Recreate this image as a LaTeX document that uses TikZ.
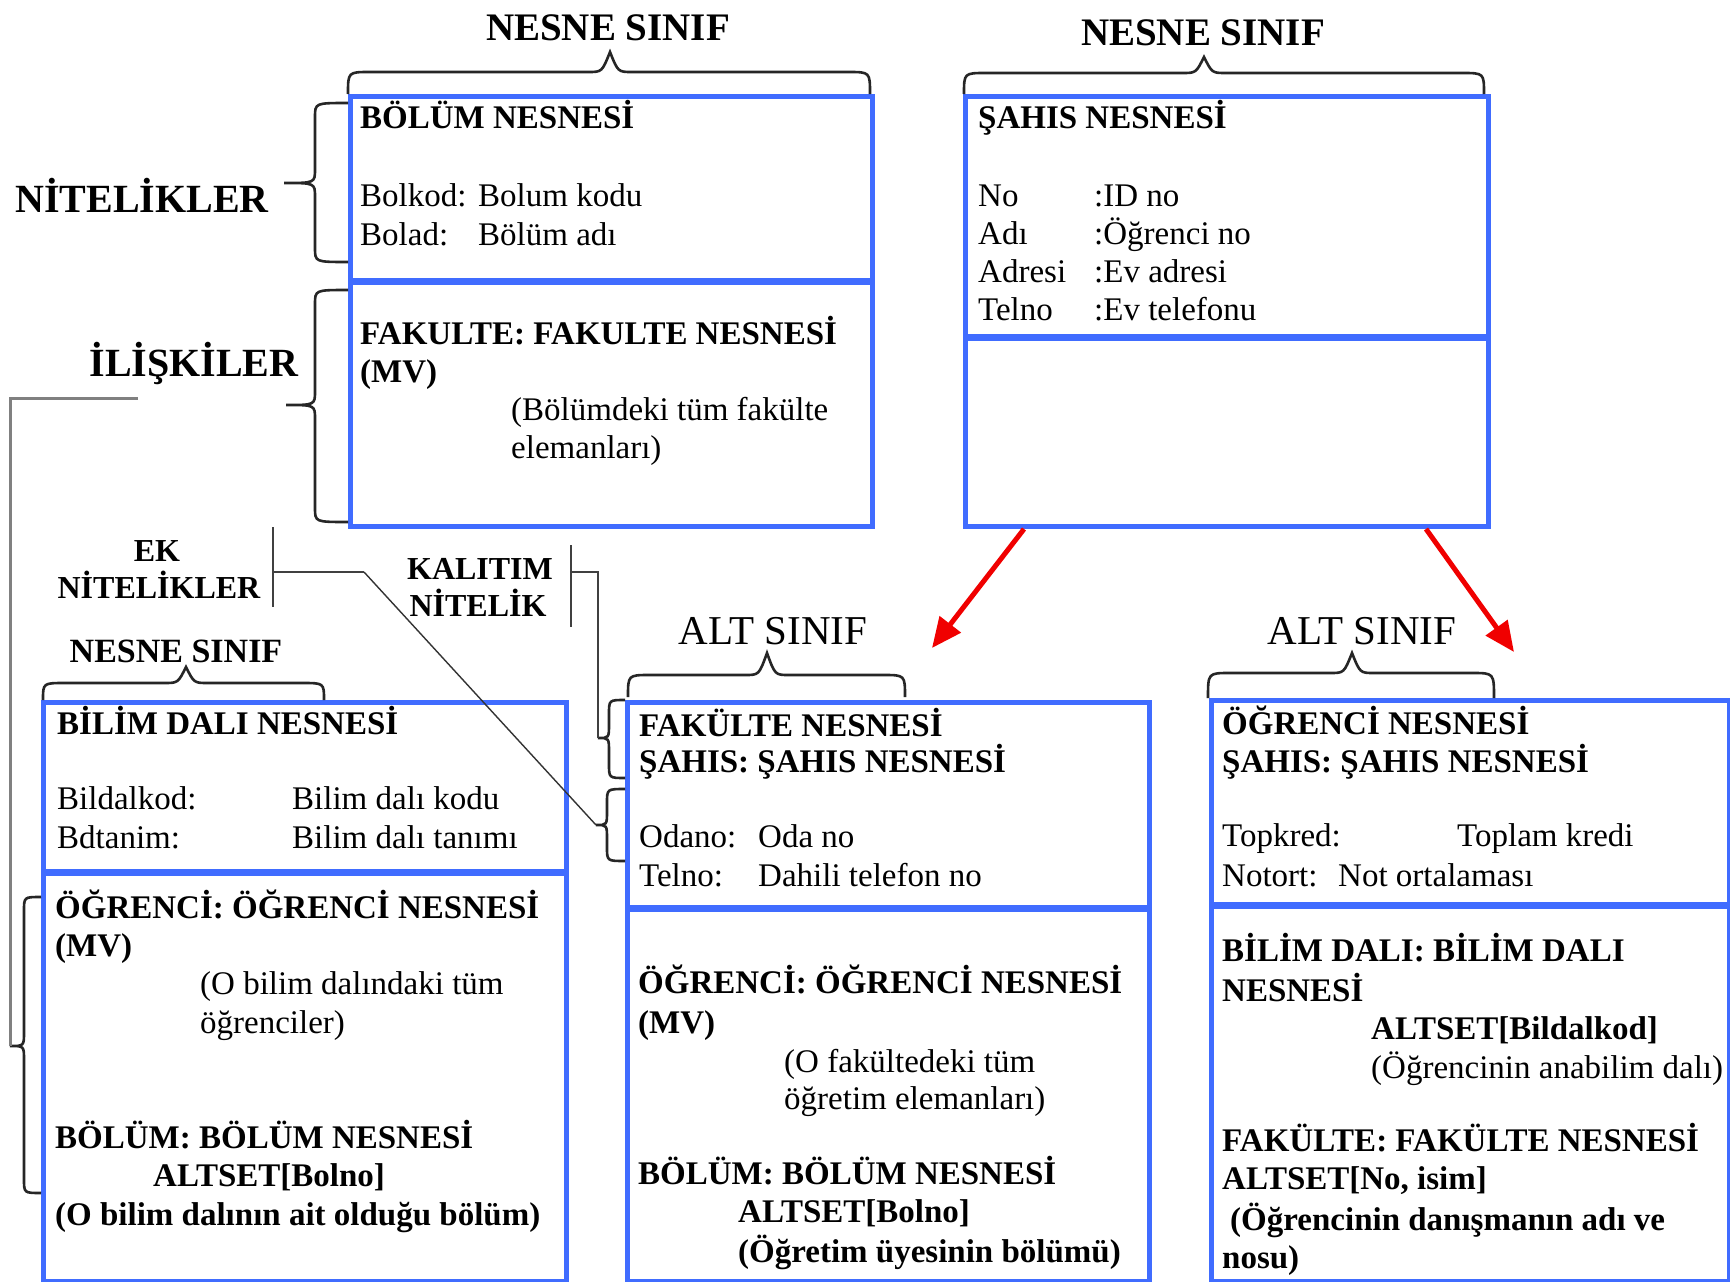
\documentclass[tikz,border=0pt]{standalone}
\usepackage{fontspec}
\setmainfont{Liberation Serif}
\usetikzlibrary{arrows.meta}
\definecolor{boxblue}{RGB}{64,108,255}
\definecolor{arrowred}{RGB}{240,0,0}

% left curly brace opening to the right: xEnd, xSpine, xTip, yTop, yTip, yBottom
\newcommand\drawlbrace[6]{%
  \draw[bracepen] (#1,#4) .. controls (#2,#4) .. (#2,{#4+14}) -- (#2,{#5-14})
    .. controls (#2,#5) .. (#3,#5) .. controls (#2,#5) .. (#2,{#5+14})
    -- (#2,{#6-14}) .. controls (#2,#6) .. (#1,#6);}
% curly brace over a box: xLeft, xRight, xTip, yBase, yFlat, yTip
\newcommand\drawtbrace[6]{%
  \draw[bracepen] (#1,#4) .. controls (#1,#5) .. ({#1+22},#5) -- ({#3-22},#5)
    .. controls ({#3-8},#5) .. (#3,#6) .. controls ({#3+8},#5) .. ({#3+22},#5)
    -- ({#2-22},#5) .. controls (#2,#5) .. (#2,#4);}

\begin{document}
\begin{tikzpicture}[x=1pt,y=-1pt,
  box/.style={draw=boxblue, line width=5pt, inner sep=0pt, anchor=north west},
  divider/.style={draw=boxblue, line width=7pt},
  bracepen/.style={draw=black!85, line width=2.6pt},
  connpen/.style={draw=black!75, line width=2.6pt},
  thinpen/.style={draw=black!80, line width=1.4pt},
  graypen/.style={draw=black!50, line width=3pt},
  redarrow/.style={draw=arrowred, line width=5pt, -{Triangle[length=30pt,width=26pt]}},
  txt/.style={inner sep=0pt, anchor=base west, font=\fontsize{33}{38}\selectfont},
  btxt/.style={inner sep=0pt, anchor=base west, font=\fontsize{33}{38}\selectfont\bfseries},
  toplabel/.style={inner sep=0pt, anchor=base, font=\fontsize{39}{44}\selectfont\bfseries},
  sidelabel/.style={inner sep=0pt, anchor=base, font=\fontsize{40}{46}\selectfont\bfseries},
  smalllabel/.style={inner sep=0pt, anchor=base, font=\fontsize{32}{38}\selectfont\bfseries},
  altlabel/.style={inner sep=0pt, anchor=base, font=\fontsize{41}{46}\selectfont},
]
\fill[white] (0,0) rectangle (1730,1282);
\useasboundingbox (0,0) rectangle (1730,1282);

% class boxes
\node[box, minimum width=522pt, minimum height=430pt] (A) at (348,94) {};
\node[box, minimum width=523pt, minimum height=430pt] (B) at (963,94) {};
\node[box, minimum width=523pt, minimum height=579pt] (C) at (41,700) {};
\node[box, minimum width=522pt, minimum height=579pt] (D) at (625,700) {};
\node[box, minimum width=518pt, minimum height=581pt] (E) at (1209,698) {};

% section dividers
\draw[divider] (348,281) -- (870,281);
\draw[divider] (963,337) -- (1486,337);
\draw[divider] (41,872) -- (564,872);
\draw[divider] (625,908) -- (1147,908);
\draw[divider] (1209,905) -- (1727,905);

% BÖLÜM NESNESİ
\node[btxt] (a1) at (360,128) {BÖLÜM NESNESİ};
\node[txt] (a2) at (360,206) {Bolkod:};
\node[txt] (a3) at (478,206) {Bolum kodu};
\node[txt] (a4) at (360,245) {Bolad:};
\node[txt] (a5) at (478,245) {Bölüm adı};
\node[btxt] (a6) at (360,344) {FAKULTE: FAKULTE NESNESİ};
\node[btxt] (a7) at (360,382) {(MV)};
\node[txt] (a8) at (511,420) {(Bölümdeki tüm fakülte};
\node[txt] (a9) at (511,458) {elemanları)};

% ŞAHIS NESNESİ
\node[btxt] (b1) at (978,128) {ŞAHIS NESNESİ};
\node[txt] (b2) at (978,206) {No};
\node[txt] (b3) at (1094,206) {:ID no};
\node[txt] (b4) at (978,244) {Adı};
\node[txt] (b5) at (1094,244) {:Öğrenci no};
\node[txt] (b6) at (978,282) {Adresi};
\node[txt] (b7) at (1094,282) {:Ev adresi};
\node[txt] (b8) at (978,320) {Telno};
\node[txt] (b9) at (1094,320) {:Ev telefonu};

% BİLİM DALI NESNESİ
\node[btxt] (c1) at (57,734) {BİLİM DALI NESNESİ};
\node[txt] (c2) at (57,809) {Bildalkod:};
\node[txt] (c3) at (292,809) {Bilim dalı kodu};
\node[txt] (c4) at (57,848) {Bdtanim:};
\node[txt] (c5) at (292,848) {Bilim dalı tanımı};
\node[btxt] (c6) at (55,918) {ÖĞRENCİ: ÖĞRENCİ NESNESİ};
\node[btxt] (c7) at (55,956) {(MV)};
\node[txt] (c8) at (200,994) {(O bilim dalındaki tüm};
\node[txt] (c9) at (200,1033) {öğrenciler)};
\node[btxt] (c10) at (55,1148) {BÖLÜM: BÖLÜM NESNESİ};
\node[btxt] (c11) at (153,1186) {ALTSET[Bolno]};
\node[btxt] (c12) at (55,1225) {(O bilim dalının ait olduğu bölüm)};

% FAKÜLTE NESNESİ
\node[btxt] (d1) at (639,736) {FAKÜLTE NESNESİ};
\node[btxt] (d2) at (639,772) {ŞAHIS: ŞAHIS NESNESİ};
\node[txt] (d3) at (639,847) {Odano:};
\node[txt] (d4) at (758,847) {Oda no};
\node[txt] (d5) at (639,886) {Telno:};
\node[txt] (d6) at (758,886) {Dahili telefon no};
\node[btxt] (d7) at (638,993) {ÖĞRENCİ: ÖĞRENCİ NESNESİ};
\node[btxt] (d8) at (638,1033) {(MV)};
\node[txt] (d9) at (784,1072) {(O fakültedeki tüm};
\node[txt] (d10) at (784,1109) {öğretim elemanları)};
\node[btxt] (d11) at (638,1184) {BÖLÜM: BÖLÜM NESNESİ};
\node[btxt] (d12) at (738,1222) {ALTSET[Bolno]};
\node[btxt] (d13) at (738,1262) {(Öğretim üyesinin bölümü)};

% ÖĞRENCİ NESNESİ
\node[btxt] (e1) at (1222,734) {ÖĞRENCİ NESNESİ};
\node[btxt] (e2) at (1222,772) {ŞAHIS: ŞAHIS NESNESİ};
\node[txt] (e3) at (1222,846) {Topkred:};
\node[txt] (e4) at (1457,846) {Toplam kredi};
\node[txt] (e5) at (1222,886) {Notort:};
\node[txt] (e6) at (1338,886) {Not ortalaması};
\node[btxt] (e7) at (1222,961) {BİLİM DALI: BİLİM DALI};
\node[btxt] (e8) at (1222,1001) {NESNESİ};
\node[btxt] (e9) at (1371,1039) {ALTSET[Bildalkod]};
\node[txt] (e10) at (1371,1078) {(Öğrencinin anabilim dalı)};
\node[btxt] (e11) at (1222,1151) {FAKÜLTE: FAKÜLTE NESNESİ};
\node[btxt] (e12) at (1222,1189) {ALTSET[No, isim]};
\node[btxt] (e13) at (1230,1230) {(Öğrencinin danışmanın adı ve};
\node[btxt] (e14) at (1222,1268) {nosu)};

% labels
\node[toplabel] (l1) at (608,40) {NESNE SINIF};
\node[toplabel] (l2) at (1203,45) {NESNE SINIF};
\node[sidelabel] (l3) at (142,212) {NİTELİKLER};
\node[sidelabel] (l4) at (194,376) {İLİŞKİLER};
\node[smalllabel] (l5) at (157,561) {EK};
\node[smalllabel] (l6) at (159,598) {NİTELİKLER};
\node[smalllabel] (l7) at (480,579) {KALITIM};
\node[smalllabel] (l8) at (478,616) {NİTELİK};
\node[inner sep=0pt, anchor=base, font=\fontsize{34}{40}\selectfont\bfseries] (l9) at (176,662) {NESNE SINIF};
\node[altlabel] (l10) at (773,644) {ALT SINIF};
\node[altlabel] (l11) at (1362,644) {ALT SINIF};

% braces over the boxes
\drawtbrace{348}{870}{610}{94}{72}{52}
\drawtbrace{964}{1484}{1204}{94}{73}{57}
\drawtbrace{43}{324}{186}{700}{683}{667}
\drawtbrace{628}{905}{767}{697}{675}{653}
\drawtbrace{1208}{1494}{1352}{698}{673}{653}

% side braces
\drawlbrace{348}{315}{284}{103}{183}{262}
\drawlbrace{348}{315}{286}{290}{405}{522}
\drawlbrace{41}{24}{10}{897}{1046}{1193}
\drawlbrace{625}{609}{598}{700}{738}{778}
\drawlbrace{625}{607}{596}{789}{825}{861}

% brace tips and connector corners
\coordinate (ctip) at (10,1046);
\coordinate (ltop) at (138,398);
\coordinate (dtip1) at (598,738);
\coordinate (dtip2) at (596,825);
\coordinate (ekjoin) at (273,572);
\coordinate (ekbend) at (364,572);
\coordinate (kjoin) at (571,572);

% marker bars
\draw[connpen] (273,527) -- (273,607);
\draw[connpen] (571,545) -- (571,627);

% connectors
\draw[graypen] (ltop) -- (10,398) -- (ctip);
\draw[connpen] (ekjoin) -- (ekbend);
\draw[thinpen] (ekbend) -- (dtip2);
\draw[connpen] (kjoin) -- (598,572) -- (dtip1);

% inheritance arrows
\coordinate (r1) at (932,648);
\coordinate (r2) at (1514,652);
\draw[redarrow] ([xshift=61pt]B.south west) -- (r1);
\draw[redarrow] ([xshift=463pt]B.south west) -- (r2);
\end{tikzpicture}
\end{document}
